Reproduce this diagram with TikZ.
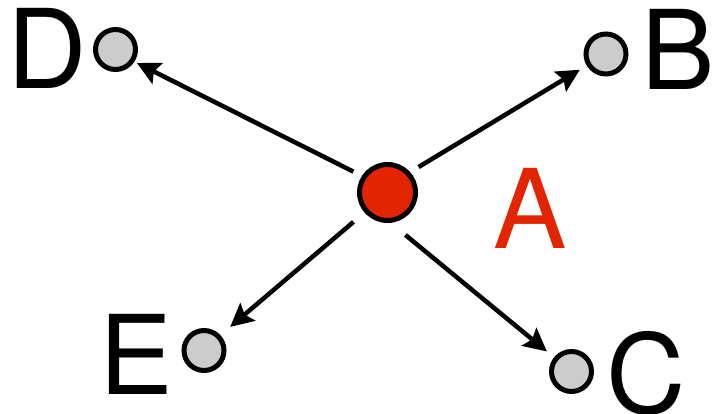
\documentclass[tikz,border=0pt]{standalone}
\usepackage{fontspec}
\setmainfont{TeX Gyre Heros}
\usetikzlibrary{arrows.meta}
\definecolor{nodered}{RGB}{227,36,0}
\definecolor{nodegray}{RGB}{204,204,204}
\begin{document}
\begin{tikzpicture}[x=1pt,y=-1pt,
  bigdot/.style={circle,draw=black,line width=5pt,fill=nodered,minimum size=56pt,inner sep=0pt},
  smalldot/.style={circle,draw=black,line width=5pt,fill=nodegray,minimum size=40pt,inner sep=0pt},
  lbl/.style={anchor=base west,inner sep=0pt,font=\fontsize{110}{110}\selectfont},
  arr/.style={line width=4.5pt,-{Stealth[length=23pt,width=23pt,inset=4pt]}}]
\useasboundingbox (0,0) rectangle (717,414);
\node[bigdot] (A) at (387.5,192.5) {};
\node[smalldot] (D) at (115.5,49.5) {};
\node[smalldot] (B) at (606,54) {};
\node[smalldot] (E) at (204,350.5) {};
\node[smalldot] (C) at (571.5,371.5) {};
\node[lbl] (lD) at (7,89) {D};
\node[lbl] (lB) at (640.9,90) {B};
\node[lbl,text=nodered] (lA) at (493.5,248) {A};
\node[lbl] (lE) at (99.3,394) {E};
\node[lbl] (lC) at (606.2,413) {C};
\draw[arr, shorten <=9.57pt, shorten >=2.81pt] (A.147.2) -- (D.-33.9);
\draw[arr, shorten <=9.84pt, shorten >=8.03pt] (A.42.9) -- (B.211.9);
\draw[arr, shorten <=14.47pt, shorten >=12.76pt] (A.-139.5) -- (E.43.6);
\draw[arr, shorten <=19.1pt, shorten >=9.24pt] (A.-84.8) -- (C.141.75);
\end{tikzpicture}
\end{document}
